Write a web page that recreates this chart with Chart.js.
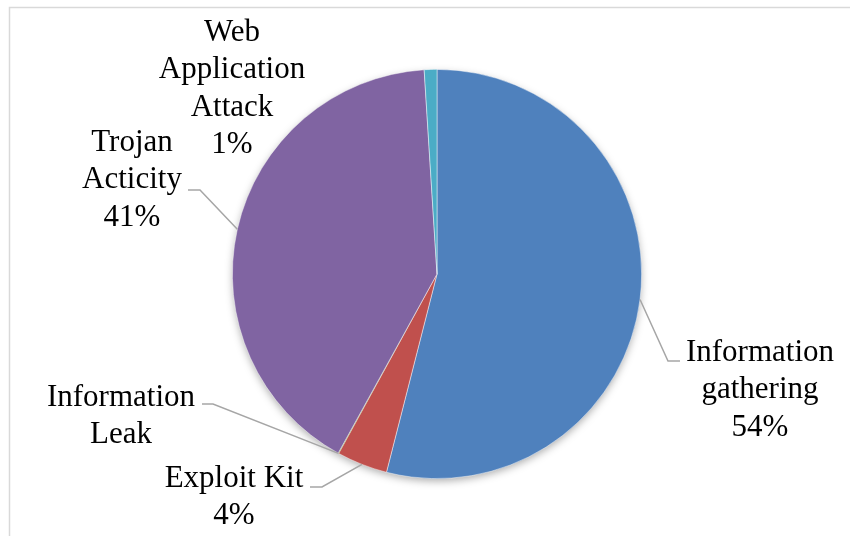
<!DOCTYPE html>
<html>
<head>
<meta charset="utf-8">
<script src="https://cdn.jsdelivr.net/npm/chart.js@4/dist/chart.umd.min.js"></script>
<style>
  html, body { margin: 0; padding: 0; background: #ffffff; }
  #wrap { width: 850px; height: 536px; position: relative; }
</style>
</head>
<body>
<div id="wrap"><canvas id="c" width="850" height="536"></canvas></div>
<script>
// ---- data ----
const categories = ['Information gathering', 'Exploit Kit', 'Information Leak', 'Trojan Acticity', 'Web Application Attack'];
const values = [54, 4, 0.05, 41, 1];
const nameLines = [
  ['Information', 'gathering'],
  ['Exploit Kit'],
  ['Information', 'Leak'],
  ['Trojan', 'Acticity'],
  ['Web', 'Application', 'Attack']
];
const sliceColors = ['#4F81BD', '#C0504D', '#9BBB59', '#8064A2', '#4BACC6'];

// label layout relative to pie centre (pixels): text centre x, first line centre y,
// and leader-line elbow / end (null = no leader line)
const labelLayout = [
  { tx: 323, ty: 79,   elbow: [231, 87],   end: [243, 87] },
  { tx: -203, ty: 205, elbow: [-115, 213], end: [-127, 213] },
  { tx: -316, ty: 124, elbow: [-224, 130], end: [-235, 130] },
  { tx: -305, ty: -131, elbow: [-237, -84], end: [-249, -84] },
  { tx: -205, ty: -241, elbow: null, end: null }
];

const total = values.reduce((a, b) => a + b, 0);

const framePlugin = {
  id: 'frame',
  beforeDraw(chart) {
    const ctx = chart.ctx;
    ctx.save();
    ctx.fillStyle = '#ffffff';
    ctx.fillRect(0, 0, chart.width, chart.height);
    ctx.strokeStyle = '#D9D9D9';
    ctx.lineWidth = 1.5;
    ctx.beginPath();
    ctx.moveTo(chart.width, 7.5);
    ctx.lineTo(9.5, 7.5);
    ctx.lineTo(9.5, chart.height);
    ctx.stroke();
    ctx.restore();
  }
};

const shadowPlugin = {
  id: 'pieShadow',
  beforeDatasetsDraw(chart) {
    const arc = chart.getDatasetMeta(0).data[0];
    if (!arc) return;
    const ctx = chart.ctx;
    ctx.save();
    ctx.shadowColor = 'rgba(0,0,0,0.35)';
    ctx.shadowBlur = 9;
    ctx.shadowOffsetY = 3;
    ctx.fillStyle = '#ffffff';
    ctx.beginPath();
    ctx.arc(arc.x, arc.y, arc.outerRadius - 1, 0, Math.PI * 2);
    ctx.fill();
    ctx.restore();
  }
};

const labelPlugin = {
  id: 'outLabels',
  afterDatasetsDraw(chart) {
    const ctx = chart.ctx;
    const meta = chart.getDatasetMeta(0);
    const lineH = 37.3;
    ctx.save();
    meta.data.forEach((arc, i) => {
      const cx = arc.x, cy = arc.y;
      const mid = (arc.startAngle + arc.endAngle) / 2;
      const lay = labelLayout[i];
      if (lay.elbow) {
        const sx = cx + Math.cos(mid) * arc.outerRadius;
        const sy = cy + Math.sin(mid) * arc.outerRadius;
        ctx.strokeStyle = '#A6A6A6';
        ctx.lineWidth = 1.5;
        ctx.beginPath();
        ctx.moveTo(sx, sy);
        ctx.lineTo(cx + lay.elbow[0], cy + lay.elbow[1]);
        ctx.lineTo(cx + lay.end[0], cy + lay.end[1]);
        ctx.stroke();
      }
      const pct = Math.round(values[i] / total * 100);
      const lines = nameLines[i].slice();
      if (pct > 0) lines.push(pct + '%');
      ctx.fillStyle = '#000000';
      ctx.font = '31px "Liberation Serif", "Times New Roman", serif';
      ctx.textAlign = 'center';
      ctx.textBaseline = 'middle';
      lines.forEach((t, k) => {
        ctx.fillText(t, cx + lay.tx, cy + lay.ty + k * lineH);
      });
    });
    ctx.restore();
  }
};

new Chart(document.getElementById('c'), {
  type: 'pie',
  data: {
    labels: categories,
    datasets: [{
      data: values,
      backgroundColor: sliceColors,
      borderColor: 'rgba(255,255,255,0.6)',
      borderWidth: [0.75, 0.75, 0, 0.75, 0.75]
    }]
  },
  options: {
    responsive: false,
    animation: false,
    layout: { padding: { top: 69, bottom: 57, left: 27, right: 3 } },
    plugins: {
      legend: { display: false },
      tooltip: { enabled: false }
    }
  },
  plugins: [framePlugin, shadowPlugin, labelPlugin]
});
</script>
</body>
</html>
